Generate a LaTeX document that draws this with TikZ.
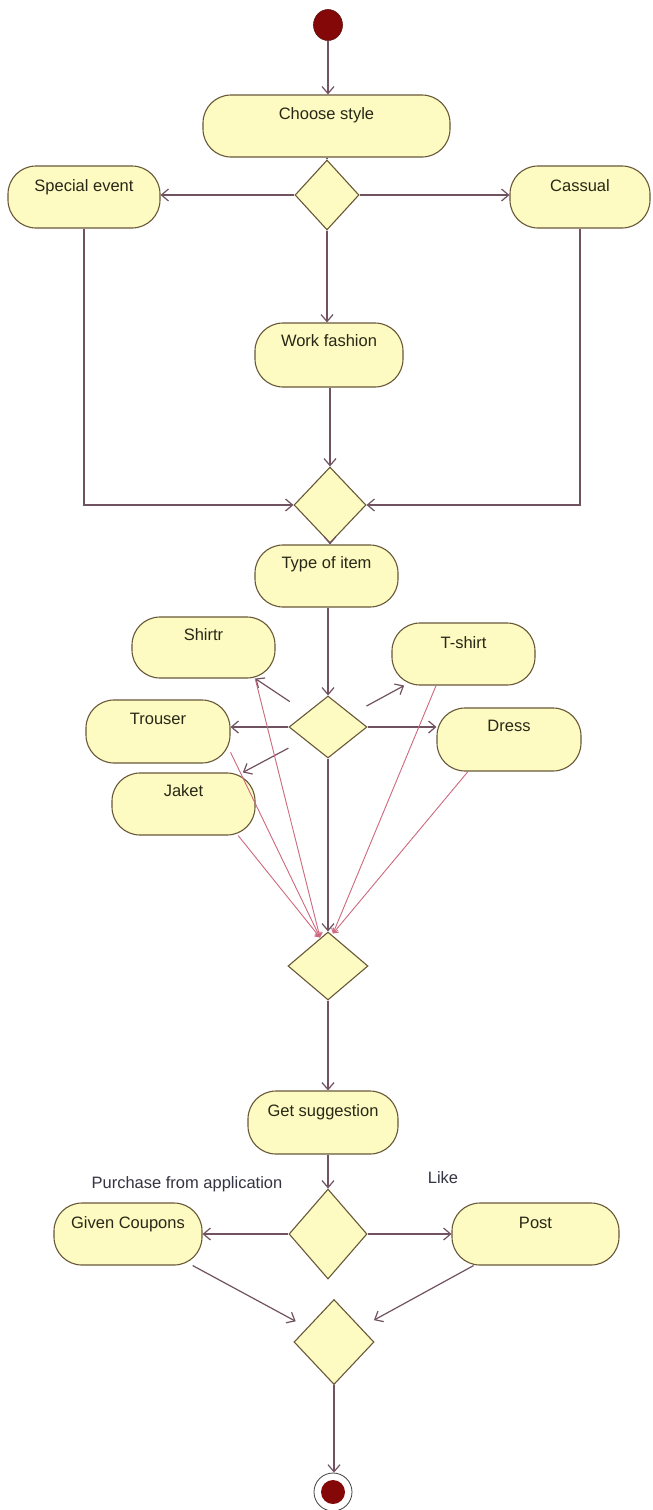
\documentclass[tikz,border=0pt]{standalone}
\usepackage{fontspec}
\setmainfont{Liberation Sans}
\usetikzlibrary{shapes.geometric,arrows.meta,calc}

\definecolor{actfill}{RGB}{253,250,194}
\definecolor{actline}{RGB}{104,88,56}
\definecolor{flowcol}{RGB}{112,82,96}
\definecolor{pinkcol}{RGB}{206,104,126}
\definecolor{textcol}{RGB}{40,40,22}
\definecolor{labelcol}{RGB}{52,52,66}
\definecolor{dotfill}{RGB}{132,8,8}
\definecolor{dotline}{RGB}{90,20,20}

\begin{document}
\begin{tikzpicture}[x=1pt,y=-1pt,
  act/.style={draw=actline, fill=actfill, line width=1.1pt, rounded corners=28pt, inner sep=0pt},
  dec/.style={diamond, draw=actline, fill=actfill, line width=1.1pt, inner sep=0pt},
  txt/.style={font=\fontsize{16.5}{18}\selectfont, text=textcol, inner sep=0pt, text height=12pt, text depth=0pt},
  lbl/.style={txt, text=labelcol},
  flow/.style={draw=flowcol, line width=1.2pt, -{Straight Barb[length=7pt,width=12pt]}},
  link/.style={draw=flowcol, line width=1.2pt},
  pinkflow/.style={draw=pinkcol, line width=0.9pt, -{Straight Barb[length=4pt,width=7pt]}}
]
\useasboundingbox (0,0) rectangle (653,1510);
\fill[white] (0,0) rectangle (653,1510);

% initial node
\node[ellipse, fill=dotfill, draw=dotline, line width=0.6pt, minimum width=29pt, minimum height=31pt, inner sep=0pt] (start) at (328,25) {};

% choose style and its branches
\node[act, minimum width=247pt, minimum height=62pt] (choose) at (326.5,126) {};
\node[txt] (choose-t) at (326.5,113) {Choose style};
\node[dec, minimum width=64pt, minimum height=70pt] (d1) at (327,195) {};
\node[act, minimum width=152pt, minimum height=62pt] (special) at (84,197) {};
\node[txt] (special-t) at (84,185) {Special event};
\node[act, minimum width=140pt, minimum height=62pt] (cassual) at (580,197) {};
\node[txt] (cassual-t) at (580,185) {Cassual};
\node[act, minimum width=148pt, minimum height=64pt] (work) at (329,355) {};
\node[txt] (work-t) at (329,340) {Work fashion};
\node[dec, minimum width=72pt, minimum height=76pt] (d2) at (330,505) {};

% item types
\node[act, minimum width=143pt, minimum height=62pt] (type) at (326.5,576) {};
\node[txt] (type-t) at (326.5,562) {Type of item};
\node[dec, minimum width=78pt, minimum height=62pt] (d3) at (328,727) {};
\node[act, minimum width=143pt, minimum height=61pt] (shirt) at (203.5,647.5) {};
\node[txt] (shirt-t) at (203.5,634) {Shirtr};
\node[act, minimum width=143pt, minimum height=62pt] (tshirt) at (463.5,654) {};
\node[txt] (tshirt-t) at (463.5,642) {T-shirt};
\node[act, minimum width=144pt, minimum height=63pt] (trouser) at (158,731.5) {};
\node[txt] (trouser-t) at (158,718) {Trouser};
\node[act, minimum width=143pt, minimum height=62pt] (jaket) at (183.5,804) {};
\node[txt] (jaket-t) at (183.5,790) {Jaket};
\node[act, minimum width=144pt, minimum height=63pt] (dress) at (509,739.5) {};
\node[txt] (dress-t) at (509,725) {Dress};
\node[dec, minimum width=80pt, minimum height=68pt] (d4) at (328,966) {};

% suggestion and outcome
\node[act, minimum width=150pt, minimum height=63pt] (suggest) at (323,1122.5) {};
\node[txt] (suggest-t) at (323,1110) {Get suggestion};
\node[dec, minimum width=78pt, minimum height=90pt] (d5) at (328,1234) {};
\node[act, minimum width=148pt, minimum height=62pt] (coupons) at (128,1234) {};
\node[txt] (coupons-t) at (128,1222) {Given Coupons};
\node[act, minimum width=167pt, minimum height=62pt] (post) at (535.5,1234) {};
\node[txt] (post-t) at (535.5,1222) {Post};
\node[lbl] (buy) at (187,1182) {Purchase from application};
\node[lbl] (like) at (443,1177) {Like};
\node[dec, minimum width=80pt, minimum height=85pt] (d6) at (334,1342) {};

% final node
\node[circle, draw=black!75, line width=0.8pt, fill=white, minimum size=38pt, inner sep=0pt] (end) at (333,1492) {};
\node[circle, fill=dotfill, minimum size=24pt, inner sep=0pt] (end-core) at (end) {};

% control flow
\draw[flow] (start) -- (start |- choose.north);
\draw[link] (d1.north |- choose.south) -- (d1.north);
\draw[flow] (d1.west) -- (d1.west -| special.east);
\draw[flow] (d1.east) -- (d1.east -| cassual.west);
\draw[flow] (d1.south) -- (d1.south |- work.north);
\draw[flow] (special.south) |- (d2.west);
\draw[flow] (cassual.south) |- (d2.east);
\draw[flow] (d2.north |- work.south) -- (d2.north);
\draw[flow] (d2.south) -- (d2.south |- type.north);
\draw[flow] (d3.north |- type.south) -- (d3.north);

\draw[flow] (d3.west) -- (d3.west -| trouser.east);
\draw[flow] (d3.east) -- (d3.east -| dress.west);
\draw[flow, shorten <=20pt] (d3) -- (shirt.-31);
\draw[flow, shorten <=18pt] (d3) -- (jaket.28);
\draw[flow, shorten <=17pt] (d3) -- (tshirt.-152);
\draw[flow] (d3.south) -- (d4.north);

\draw[pinkflow] (shirt.-31) -- ($(d4.north)+(-8,6)$);
\draw[pinkflow] (trouser.-16) -- ($(d4.north)+(-8,6)$);
\draw[pinkflow] (jaket.-30) -- ($(d4.north)+(-8,6)$);
\draw[pinkflow] (tshirt.-131) -- ($(d4.north)+(5,2)$);
\draw[pinkflow] (dress.-142) -- ($(d4.north)+(5,2)$);

\draw[flow] (d4.south) -- (d4.south |- suggest.north);
\draw[flow] (d5.north |- suggest.south) -- (d5.north);
\draw[flow] (d5.west) -- (coupons.east);
\draw[flow] (d5.east) -- (post.west);
\draw[flow, shorten >=13pt] (coupons.-26) -- (d6);
\draw[flow, shorten >=15pt] (post.-153) -- (d6);
\draw[flow] (d6.south) -- (d6.south |- end.north);
\end{tikzpicture}
\end{document}
